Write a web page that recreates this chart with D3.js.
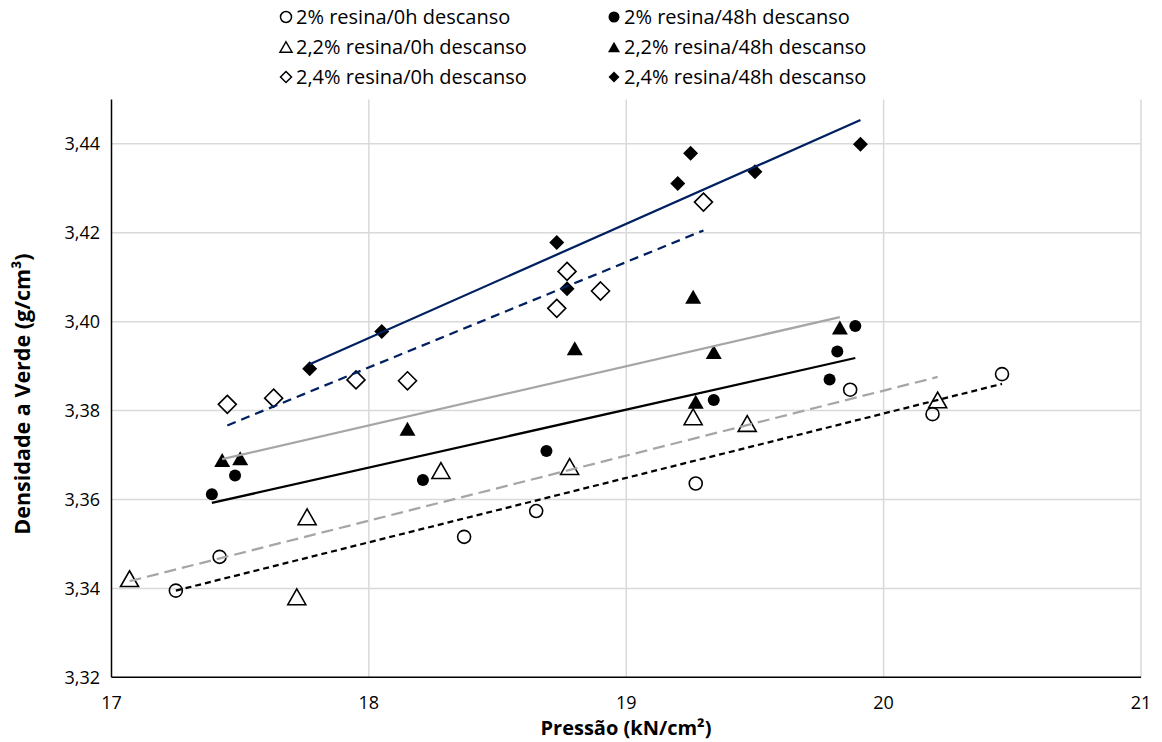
<!DOCTYPE html>
<html>
<head>
<meta charset="utf-8">
<script src="https://cdn.jsdelivr.net/npm/d3@7"></script>
<style>
  body { margin: 0; background: #fff; }
  text { font-family: "Open Sans", sans-serif; fill: #000; }
</style>
</head>
<body>
<svg id="chart" width="1162" height="742"></svg>
<script>
// pressao (kN/cm2) x densidade a verde (g/cm3)
var res20_0h  = [[17.25,3.3395],[17.42,3.3471],[18.37,3.3516],[18.65,3.3574],[19.27,3.3636],[19.87,3.3847],[20.19,3.3792],[20.46,3.3882]];
var res20_48h = [[17.39,3.3612],[17.48,3.3654],[18.21,3.3644],[18.69,3.3709],[19.34,3.3824],[19.79,3.3870],[19.82,3.3933],[19.89,3.3990]];
var res22_0h  = [[17.07,3.3422],[17.72,3.3381],[17.76,3.3561],[18.28,3.3665],[18.78,3.3674],[19.26,3.3786],[19.47,3.3771],[20.21,3.3824]];
var res22_48h = [[17.43,3.3689],[17.50,3.3693],[18.15,3.3759],[18.80,3.3940],[19.26,3.4056],[19.27,3.3820],[19.34,3.3932],[19.83,3.3987]];
var res24_0h  = [[17.45,3.3814],[17.63,3.3828],[17.95,3.3869],[18.15,3.3867],[18.73,3.4030],[18.77,3.4113],[18.90,3.4069],[19.30,3.4269]];
var res24_48h = [[17.77,3.3894],[18.05,3.3978],[18.73,3.4178],[18.77,3.4074],[19.20,3.4311],[19.25,3.4379],[19.50,3.4337],[19.91,3.4399]];

var seriesNames = ["2% resina/0h descanso", "2% resina/48h descanso",
                   "2,2% resina/0h descanso", "2,2% resina/48h descanso",
                   "2,4% resina/0h descanso", "2,4% resina/48h descanso"];
var xTicks = [17, 18, 19, 20, 21];
var yTicks = [3.32, 3.34, 3.36, 3.38, 3.40, 3.42, 3.44];

var series = [
    {name: seriesNames[0], data: res20_0h,  shape: "circle",   filled: false, line: "#000",    dash: "6,4"},
    {name: seriesNames[1], data: res20_48h, shape: "circle",   filled: true,  line: "#000",    dash: null},
    {name: seriesNames[2], data: res22_0h,  shape: "triangle", filled: false, line: "#a6a6a6", dash: "12,6"},
    {name: seriesNames[3], data: res22_48h, shape: "triangle", filled: true,  line: "#a6a6a6", dash: null},
    {name: seriesNames[4], data: res24_0h,  shape: "diamond",  filled: false, line: "#002060", dash: "9,6"},
    {name: seriesNames[5], data: res24_48h, shape: "diamond",  filled: true,  line: "#002060", dash: null}
];

var svg = d3.select("#chart");
var plotL = 111.5, plotR = 1141, plotT = 99.4, plotB = 677.3;

var x = d3.scaleLinear().domain([17, 21]).range([plotL, plotR]);
var y = d3.scaleLinear().domain([3.32, 3.45]).range([plotB, plotT]);

var ptBr = d3.formatLocale({decimal: ",", thousands: ".", grouping: [3], currency: ["", ""]});
var fmtY = ptBr.format(".2f");

// grade
svg.append("g").selectAll("line").data(yTicks.slice(1)).join("line")
    .attr("x1", plotL).attr("x2", plotR)
    .attr("y1", d => y(d)).attr("y2", d => y(d))
    .attr("stroke", "#d9d9d9").attr("stroke-width", 1.5);
svg.append("g").selectAll("line").data(xTicks.slice(1)).join("line")
    .attr("x1", d => x(d)).attr("x2", d => x(d))
    .attr("y1", plotT).attr("y2", plotB)
    .attr("stroke", "#d9d9d9").attr("stroke-width", 1.5);

// eixos
svg.append("line").attr("x1", plotL).attr("x2", plotL).attr("y1", plotT).attr("y2", plotB)
    .attr("stroke", "#000").attr("stroke-width", 1.5);
svg.append("line").attr("x1", plotL).attr("x2", plotR).attr("y1", plotB).attr("y2", plotB)
    .attr("stroke", "#000").attr("stroke-width", 1.5);

svg.append("g").selectAll("text").data(yTicks).join("text")
    .attr("x", 100).attr("y", d => y(d)).attr("dy", "0.35em")
    .attr("text-anchor", "end").attr("font-size", 18)
    .text(d => fmtY(d));
svg.append("g").selectAll("text").data(xTicks).join("text")
    .attr("x", d => x(d)).attr("y", 703).attr("dy", "0.35em")
    .attr("text-anchor", "middle").attr("font-size", 18)
    .text(d => d);

svg.append("text").attr("x", 626).attr("y", 728).attr("dy", "0.35em")
    .attr("text-anchor", "middle").attr("font-size", 20).attr("font-weight", "bold")
    .text("Pressão (kN/cm²)");
svg.append("text").attr("transform", "translate(22,394) rotate(-90)").attr("dy", "0.35em")
    .attr("text-anchor", "middle").attr("font-size", 21.5).attr("font-weight", "bold")
    .text("Densidade a Verde (g/cm³)");

// simbolos no estilo do excel
function marker(sel, shape, r){
    if (shape == "circle") {
        sel.attr("d", d3.arc()({innerRadius: 0, outerRadius: r, startAngle: 0, endAngle: 2 * Math.PI}));
    } else if (shape == "triangle") {
        var h = r * 1.75;
        sel.attr("d", "M0," + (-h / 2) + "L" + r + "," + (h / 2) + "L" + (-r) + "," + (h / 2) + "Z");
    } else {
        sel.attr("d", "M0," + (-r) + "L" + r + ",0L0," + r + "L" + (-r) + ",0Z");
    }
    return sel;
}

// marcadores
series.forEach(function(s){
    var size = s.shape == "circle" ? (s.filled ? 6 : 6.5) : s.shape == "triangle" ? (s.filled ? 8 : 9) : (s.filled ? 7.5 : 9);
    svg.append("g").selectAll("path").data(s.data).join("path")
        .attr("transform", d => "translate(" + x(d[0]) + "," + y(d[1]) + ")")
        .call(marker, s.shape, size)
        .attr("fill", s.filled ? "#000" : "none")
        .attr("stroke", "#000")
        .attr("stroke-width", s.filled ? 0 : 1.6);
});

// linhas de tendencia (minimos quadrados)
series.forEach(function(s){
    var mx = d3.mean(s.data, d => d[0]), my = d3.mean(s.data, d => d[1]);
    var b = d3.sum(s.data, d => (d[0] - mx) * (d[1] - my)) / d3.sum(s.data, d => (d[0] - mx) * (d[0] - mx));
    var a = my - b * mx;
    var ext = d3.extent(s.data, d => d[0]);
    svg.append("line")
        .attr("x1", x(ext[0])).attr("y1", y(a + b * ext[0]))
        .attr("x2", x(ext[1])).attr("y2", y(a + b * ext[1]))
        .attr("stroke", s.line)
        .attr("stroke-width", 2.25)
        .attr("stroke-dasharray", s.dash);
});

// legenda
var legX = [286, 614], legY = [17, 47, 77];
series.forEach(function(s, i){
    var lx = legX[i % 2], ly = legY[Math.floor(i / 2)];
    svg.append("path")
        .attr("transform", "translate(" + lx + "," + ly + ")")
        .call(marker, s.shape, s.shape == "triangle" ? 6 : 5.5)
        .attr("fill", s.filled ? "#000" : "none")
        .attr("stroke", "#000").attr("stroke-width", s.filled ? 0 : 1.5);
    svg.append("text").attr("x", lx + 10).attr("y", ly).attr("dy", "0.35em")
        .attr("font-size", 20).text(s.name);
});
</script>
</body>
</html>
